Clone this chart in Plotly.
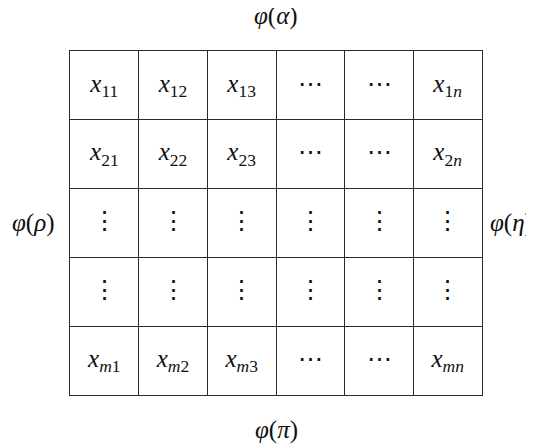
import plotly.graph_objects as go

# matrix entries, row by row (top to bottom)
cell_labels = [
    ["x|11", "x|12", "x|13", "⋯", "⋯", "x|1n"],
    ["x|21", "x|22", "x|23", "⋯", "⋯", "x|2n"],
    ["⋮", "⋮", "⋮", "⋮", "⋮", "⋮"],
    ["⋮", "⋮", "⋮", "⋮", "⋮", "⋮"],
    ["x|m1", "x|m2", "x|m3", "⋯", "⋯", "x|mn"],
]
top_label = "α"
bottom_label = "π"
left_label = "ρ"
right_label = "η"

n_rows = len(cell_labels)
n_cols = len(cell_labels[0])
FONT = "Liberation Serif"
LINE = "#2a2a2a"


def fmt(s):
    # "x|11" -> italic x with subscript
    if "|" in s:
        base, sub = s.split("|")
        sub = "".join(f"<i>{c}</i>" if c.isalpha() else c for c in sub)
        return f"<i>{base}</i><sub>{sub}</sub>"
    return s


def phi(g):
    return f"<i>φ</i>(<i>{g}</i>)"


xs, ys, texts = [], [], []
for r, row in enumerate(cell_labels):
    for c, lab in enumerate(row):
        xs.append(c + 0.5)
        ys.append(r + 0.5)
        texts.append(fmt(lab))

fig = go.Figure(go.Scatter(
    x=xs, y=ys, text=texts, mode="text",
    textposition="middle center",
    textfont=dict(family=FONT, size=25, color="#111"),
    hoverinfo="skip",
))

fig.update_xaxes(range=[0, n_cols], tickvals=list(range(n_cols + 1)),
                 showgrid=True, gridcolor=LINE, gridwidth=1,
                 showticklabels=False, ticks="", zeroline=False,
                 showline=True, mirror=True, linecolor=LINE, linewidth=1)
fig.update_yaxes(range=[n_rows, 0], tickvals=list(range(n_rows + 1)),
                 showgrid=True, gridcolor=LINE, gridwidth=1,
                 showticklabels=False, ticks="", zeroline=False,
                 showline=True, mirror=True, linecolor=LINE, linewidth=1)

lab_font = dict(family=FONT, size=25, color="#111")
fig.add_annotation(x=0.5, y=1, xref="paper", yref="paper", text=phi(top_label),
                   showarrow=False, yanchor="middle", yshift=35, font=lab_font)
fig.add_annotation(x=0.5, y=0, xref="paper", yref="paper", text=phi(bottom_label),
                   showarrow=False, yanchor="middle", yshift=-35, font=lab_font)
fig.add_annotation(x=0, y=0.5, xref="paper", yref="paper", text=phi(left_label),
                   showarrow=False, xanchor="center", xshift=-37, font=lab_font)
fig.add_annotation(x=1, y=0.5, xref="paper", yref="paper", text=phi(right_label),
                   showarrow=False, xanchor="left", xshift=6, font=lab_font)

# the page body has an 8px margin, so the margins are offset to compensate
fig.update_layout(
    width=534, height=444,
    margin=dict(l=62, r=60, t=43, b=57),
    paper_bgcolor="white", plot_bgcolor="white",
    showlegend=False,
)

fig.write_html("out.html")
